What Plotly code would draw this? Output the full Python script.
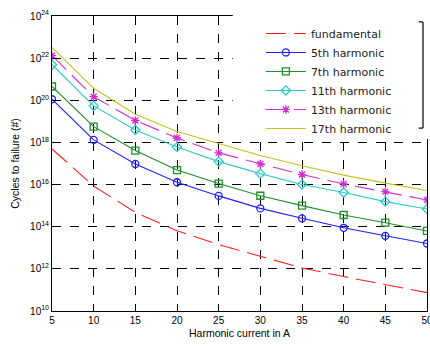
import plotly.graph_objects as go

current_A = [5, 10, 15, 20, 25, 30, 35, 40, 45, 50]

fundamental = [4.9e17, 8.5e15, 4.8e14, 6.5e13, 1.41e13, 3.8e12, 1.1e12, 4.3e11, 1.8e11, 7.4e10]
h5 = [1.12e20, 1.32e18, 9.5e16, 1.29e16, 2.9e15, 7.4e14, 2.5e14, 8.9e13, 3.7e13, 1.6e13]
h7 = [4.5e20, 5.6e18, 4.1e17, 4.9e16, 1.12e16, 2.95e15, 1.0e15, 3.6e14, 1.55e14, 6.3e13]
h11 = [4.9e21, 5.4e19, 3.9e18, 6.0e17, 1.23e17, 3.3e16, 1.0e16, 4.2e15, 1.55e15, 6.9e14]
h13 = [1.32e22, 1.48e20, 1.1e19, 1.62e18, 3.2e17, 9.5e16, 3.0e16, 1.07e16, 4.6e15, 1.86e15]
h17 = [3.2e22, 3.7e20, 2.2e19, 3.3e18, 8.9e17, 2.4e17, 7.8e16, 2.8e16, 1.17e16, 5.2e15]

series_names = ["fundamental", "5th harmonic", "7th harmonic", "11th harmonic", "13th harmonic", "17th harmonic"]

x_ticks = [5, 10, 15, 20, 25, 30, 35, 40, 45, 50]
y_exponents = [10, 12, 14, 16, 18, 20, 22, 24]

fig = go.Figure()

styles = [
    (fundamental, "#ff2020", "20px,8px", None),
    (h5, "#2020ff", "solid", "circle-open"),
    (h7, "#20902a", "solid", "square-open"),
    (h11, "#30c8c8", "solid", "diamond-open"),
    (h13, "#d030d0", "20px,8px", "asterisk-open"),
    (h17, "#c8c020", "solid", None),
]

for name, (vals, color, dash, sym) in zip(series_names, styles):
    mode = "lines+markers" if sym else "lines"
    marker = dict(symbol=sym, size=7, color=color, line=dict(color=color, width=1.3)) if sym else None
    fig.add_trace(go.Scatter(
        x=current_A, y=vals, name=name, mode=mode,
        line=dict(color=color, width=1.1, dash=dash),
        marker=marker,
    ))

axis_font = dict(family="Liberation Sans, Arial, sans-serif", size=10, color="black")
title_font = dict(family="Liberation Sans, Arial, sans-serif", size=10.5, color="black")

fig.update_xaxes(
    range=[5, 50], tickvals=x_ticks, ticktext=[str(v) for v in x_ticks],
    showgrid=True, gridcolor="black", griddash="dash", gridwidth=1,
    showline=True, linecolor="black", linewidth=1, mirror=True,
    ticks="inside", ticklen=4, tickcolor="black", zeroline=False,
    tickfont=axis_font, ticklabeloverflow="allow", automargin=False,
    title=dict(text="Harmonic current in A", font=title_font, standoff=4),
)
fig.update_yaxes(
    type="log", range=[10, 24],
    tickvals=[10.0 ** e for e in y_exponents],
    ticktext=["10<sup>%d</sup>" % e for e in y_exponents],
    showgrid=True, gridcolor="black", griddash="dash", gridwidth=1,
    showline=True, linecolor="black", linewidth=1, mirror=True,
    ticks="inside", ticklen=4, tickcolor="black", zeroline=False,
    tickfont=axis_font, ticklabeloverflow="allow", automargin=False,
    title=dict(text="Cycles to failure (#)", font=title_font, standoff=8),
)

# white legend area (covers grid as in the reference)
fig.add_shape(type="rect", xref="paper", yref="paper", x0=0.482, x1=1.03, y0=0.583, y1=1.1,
              fillcolor="white", line=dict(width=0), layer="above")
# legend border remnant (bracket at right)
bracket = dict(color="black", width=1.2)
fig.add_shape(type="line", xref="paper", yref="paper", x0=0.9893, x1=0.9893, y0=0.62, y1=0.98,
              line=bracket, layer="above")
fig.add_shape(type="line", xref="paper", yref="paper", x0=0.978, x1=0.9893, y0=0.98, y1=0.98,
              line=bracket, layer="above")
fig.add_shape(type="line", xref="paper", yref="paper", x0=0.978, x1=0.9893, y0=0.62, y1=0.62,
              line=bracket, layer="above")

fig.update_layout(
    width=430, height=347, autosize=False,
    margin=dict(l=52, r=3, t=16, b=36),
    plot_bgcolor="white", paper_bgcolor="white",
    showlegend=True,
    legend=dict(x=0.557, y=0.99, xanchor="left", yanchor="top",
                bgcolor="rgba(0,0,0,0)", borderwidth=0, itemwidth=40,
                font=dict(family="DejaVu Sans, sans-serif", size=11, color="#222"),
                tracegroupgap=0),
)

fig.write_html("out.html", config={"displayModeBar": False},
               post_script="document.body.style.margin='0';document.body.style.padding='0';document.body.style.overflow='hidden';")
